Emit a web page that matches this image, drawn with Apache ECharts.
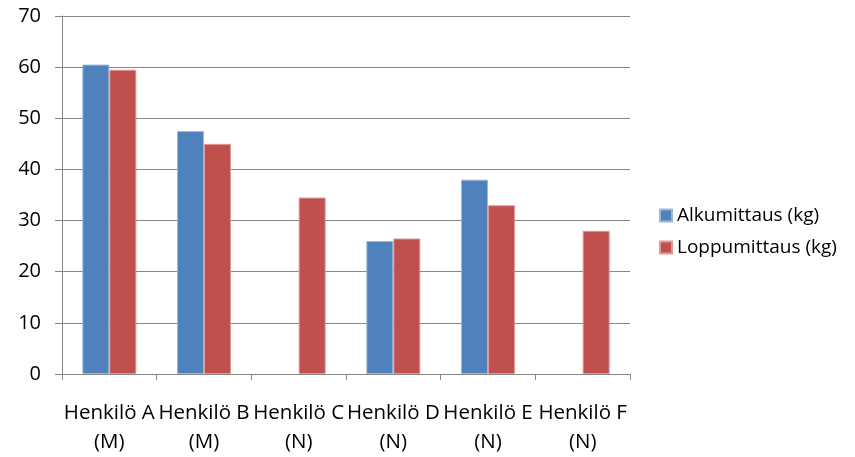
<!DOCTYPE html>
<html lang="fi">
<head>
    <meta charset="UTF-8">
    <title>Mittaukset</title>
    <style>
        html, body { margin: 0; padding: 0; background: #fff; }
        #chart { width: 855px; height: 457px; }
    </style>
</head>
<body>
<div id="chart"></div>
<script src="https://cdn.jsdelivr.net/npm/echarts@6/dist/echarts.min.js"></script>
<script type="text/javascript">
    var categories = ['Henkilö A\n(M)', 'Henkilö B\n(M)', 'Henkilö C\n(N)', 'Henkilö D\n(N)', 'Henkilö E\n(N)', 'Henkilö F\n(N)'];
    var alkumittaus = [60.5, 47.5, null, 26, 38, null];
    var loppumittaus = [59.5, 45, 34.5, 26.5, 33, 28];
    var seriesNames = ['Alkumittaus (kg)', 'Loppumittaus (kg)'];

    var font = '"Open Sans", sans-serif';
    var myChart = echarts.init(document.getElementById('chart'));

    myChart.setOption({
        animation: false,
        textStyle: {fontFamily: font},
        grid: {left: 62, right: 225, top: 16, bottom: 83, containLabel: false},
        legend: {
            orient: 'vertical',
            left: 654,
            top: 201,
            itemWidth: 12,
            itemHeight: 12,
            itemGap: 13,
            icon: 'rect',
            textStyle: {fontSize: 19, color: '#000', fontFamily: font},
            data: seriesNames
        },
        xAxis: {
            type: 'category',
            data: categories,
            axisLine: {lineStyle: {color: '#868686'}},
            axisTick: {show: true, length: 6, lineStyle: {color: '#868686'}},
            axisLabel: {
                interval: 0,
                color: '#000',
                fontSize: 20.5,
                lineHeight: 29,
                margin: 25,
                fontFamily: font
            }
        },
        yAxis: {
            type: 'value',
            min: 0,
            max: 70,
            interval: 10,
            axisLine: {show: true, lineStyle: {color: '#868686'}},
            axisTick: {show: true, length: 7, lineStyle: {color: '#868686'}},
            splitLine: {lineStyle: {color: '#868686'}},
            axisLabel: {color: '#000', fontSize: 20, margin: 21, fontFamily: font}
        },
        series: [{
            name: seriesNames[0],
            type: 'bar',
            data: alkumittaus,
            barGap: '0%',
            barCategoryGap: '43%',
            itemStyle: {color: '#4F81BD', borderColor: '#9BB8DC', borderWidth: 1}
        }, {
            name: seriesNames[1],
            type: 'bar',
            data: loppumittaus,
            itemStyle: {color: '#C0504D', borderColor: '#DE9A98', borderWidth: 1}
        }]
    });
</script>
</body>
</html>
